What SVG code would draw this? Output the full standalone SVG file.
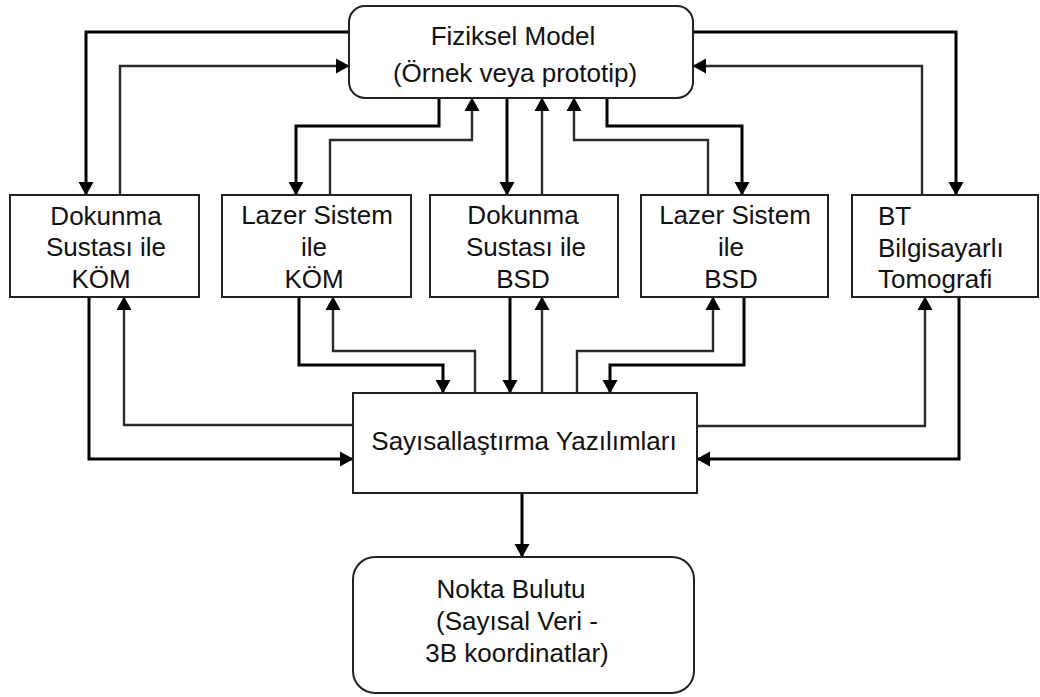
<svg xmlns="http://www.w3.org/2000/svg" width="1040" height="697" viewBox="0 0 1040 697">
  <style>
    .box { fill: #fff; stroke: #222; stroke-width: 2; }
    .lbl { font-family: "Liberation Sans", Arial, sans-serif; font-size: 26px; fill: #111; }
    .mid { text-anchor: middle; }
    .fw { fill: none; stroke: #000; stroke-width: 3; }
    .bk { fill: none; stroke: #2a2a2a; stroke-width: 2.4; }
  </style>
  <defs>
    <marker id="arrow" markerUnits="userSpaceOnUse" markerWidth="14" markerHeight="16" refX="13" refY="8" orient="auto">
      <path d="M0,0.5 L13.5,8 L0,15.5 Z" fill="#000"/>
    </marker>
  </defs>
  <rect width="1040" height="697" fill="#fff"/>

  <!-- connectors -->
  <g id="connectors">
    <!-- model to measuring systems -->
    <path class="fw" d="M349,32 H86 V195" marker-end="url(#arrow)"/>
    <path class="fw" d="M439,98 V126 H296 V195" marker-end="url(#arrow)"/>
    <path class="fw" d="M507,98 V195" marker-end="url(#arrow)"/>
    <path class="fw" d="M607,98 V126 H742 V195" marker-end="url(#arrow)"/>
    <path class="fw" d="M693,32 H956 V195" marker-end="url(#arrow)"/>
    <!-- measuring systems back to model -->
    <path class="bk" d="M120,195 V66 H349" marker-end="url(#arrow)"/>
    <path class="bk" d="M330,195 V140 H472 V98" marker-end="url(#arrow)"/>
    <path class="bk" d="M542,195 V98" marker-end="url(#arrow)"/>
    <path class="bk" d="M708,195 V140 H574 V98" marker-end="url(#arrow)"/>
    <path class="bk" d="M922,195 V66 H693" marker-end="url(#arrow)"/>
    <!-- measuring systems to software -->
    <path class="fw" d="M89,297 V459 H353" marker-end="url(#arrow)"/>
    <path class="fw" d="M299,297 V365 H443 V393" marker-end="url(#arrow)"/>
    <path class="fw" d="M510,297 V393" marker-end="url(#arrow)"/>
    <path class="fw" d="M744,297 V365 H610 V393" marker-end="url(#arrow)"/>
    <path class="fw" d="M959,297 V459 H697" marker-end="url(#arrow)"/>
    <!-- software back to measuring systems -->
    <path class="bk" d="M353,425 H124 V297" marker-end="url(#arrow)"/>
    <path class="bk" d="M475,393 V351 H333 V297" marker-end="url(#arrow)"/>
    <path class="bk" d="M542,393 V297" marker-end="url(#arrow)"/>
    <path class="bk" d="M577,393 V351 H713 V297" marker-end="url(#arrow)"/>
    <path class="bk" d="M697,426 H925 V297" marker-end="url(#arrow)"/>
    <!-- software to point cloud -->
    <path class="fw" d="M522,493 V557" marker-end="url(#arrow)"/>
  </g>

  <g id="fiziksel-model">
    <rect class="box" x="349" y="6" width="344" height="92" rx="16"/>
    <text class="lbl mid" x="513" y="45">Fiziksel Model</text>
    <text class="lbl mid" x="515" y="82">(Örnek veya prototip)</text>
  </g>

  <g id="dokunma-kom">
    <rect class="box" x="10" y="195" width="189" height="102"/>
    <text class="lbl mid" x="106" y="225">Dokunma</text>
    <text class="lbl mid" x="106" y="256">Sustası ile</text>
    <text class="lbl mid" x="101" y="288">KÖM</text>
  </g>

  <g id="lazer-kom">
    <rect class="box" x="222" y="195" width="189" height="102"/>
    <text class="lbl mid" x="317" y="224">Lazer Sistem</text>
    <text class="lbl mid" x="314" y="256">ile</text>
    <text class="lbl mid" x="314" y="288">KÖM</text>
  </g>

  <g id="dokunma-bsd">
    <rect class="box" x="430" y="195" width="188" height="102"/>
    <text class="lbl mid" x="523" y="224">Dokunma</text>
    <text class="lbl mid" x="526" y="256">Sustası ile</text>
    <text class="lbl mid" x="523" y="288">BSD</text>
  </g>

  <g id="lazer-bsd">
    <rect class="box" x="641" y="195" width="187" height="102"/>
    <text class="lbl mid" x="735" y="224">Lazer Sistem</text>
    <text class="lbl mid" x="731" y="256">ile</text>
    <text class="lbl mid" x="731" y="288">BSD</text>
  </g>

  <g id="bt-tomografi">
    <rect class="box" x="852" y="195" width="186" height="102"/>
    <text class="lbl" x="878" y="225">BT</text>
    <text class="lbl" x="878" y="257">Bilgisayarlı</text>
    <text class="lbl" x="878" y="288">Tomografi</text>
  </g>

  <g id="sayisallastirma">
    <rect class="box" x="353" y="393" width="344" height="100"/>
    <text class="lbl mid" x="524" y="450">Sayısallaştırma Yazılımları</text>
  </g>

  <g id="nokta-bulutu">
    <rect class="box" x="353" y="557" width="341" height="136" rx="22"/>
    <text class="lbl mid" x="511" y="598">Nokta Bulutu</text>
    <text class="lbl mid" x="517" y="630">(Sayısal Veri -</text>
    <text class="lbl mid" x="517" y="662">3B koordinatlar)</text>
  </g>
</svg>
